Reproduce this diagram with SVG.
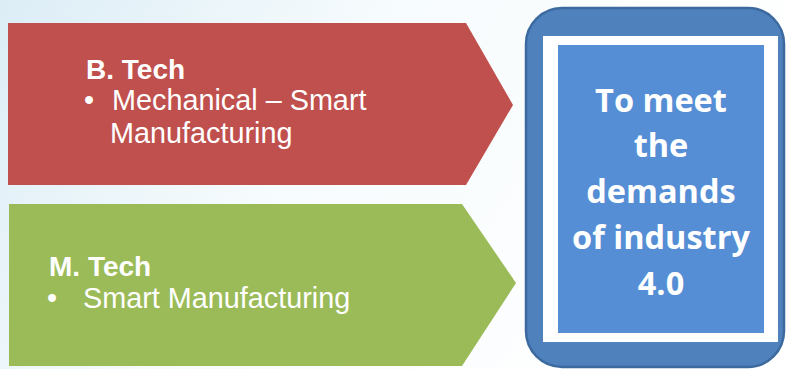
<svg xmlns="http://www.w3.org/2000/svg" width="788" height="369" viewBox="0 0 788 369">
<defs>
<linearGradient id="bg" x1="0" y1="0" x2="1" y2="0.3">
<stop offset="0" stop-color="#dcedf6"/>
<stop offset="0.45" stop-color="#f6fbfd"/>
<stop offset="1" stop-color="#ffffff"/>
</linearGradient>
<style>
.lbl{font-family:"Liberation Sans",Arial,sans-serif;fill:#ffffff}
.b{font-weight:bold;font-size:28px}
.r{font-size:28.8px}
.ctr{font-family:"Open Sans",Lato,sans-serif;font-weight:bold;font-size:32.5px;fill:#ffffff;text-anchor:middle}
</style>
</defs>
<rect x="0" y="0" width="788" height="369" fill="url(#bg)"/>
<g id="btech">
<polygon points="8,23 466,23 513,105 466,185 8,185" fill="#c0504d"/>
<text class="lbl b" x="86" y="79">B. Tech</text>
<text class="lbl r" x="84" y="110">•</text>
<text class="lbl r" x="112" y="110">Mechanical – Smart</text>
<text class="lbl r" x="110" y="143">Manufacturing</text>
</g>
<g id="mtech">
<polygon points="9,204 462,204 516,283 462,366 9,366" fill="#9bbb59"/>
<text class="lbl b" x="49" y="276">M. Tech</text>
<text class="lbl r" x="47" y="308">•</text>
<text class="lbl r" x="83" y="308">Smart Manufacturing</text>
</g>
<g id="goal">
<rect x="526" y="8" width="258" height="359" rx="36" ry="36" fill="#4f81bd" stroke="#3c6a9f" stroke-width="2.5"/>
<rect x="543" y="36" width="235" height="306" fill="#ffffff"/>
<rect x="558" y="45" width="206" height="288" fill="#558ed5"/>
<text class="ctr" x="661" y="112">To meet</text>
<text class="ctr" x="661" y="157">the</text>
<text class="ctr" x="661" y="203">demands</text>
<text class="ctr" x="661" y="249">of industry</text>
<text class="ctr" x="661" y="295">4.0</text>
</g>
<g id="connectors"></g>
</svg>
